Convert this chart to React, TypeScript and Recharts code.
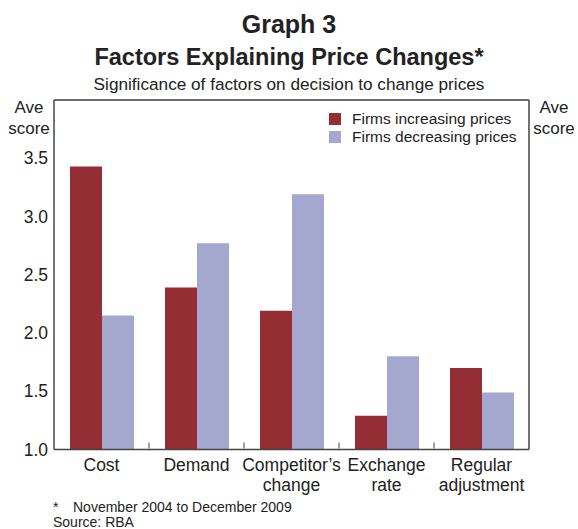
import { BarChart, Bar, XAxis, YAxis, CartesianGrid, ReferenceLine, Legend } from "recharts"

const categories = ["Cost", "Demand", "Competitor’s change", "Exchange rate", "Regular adjustment"]
const categoryLines = [["Cost"], ["Demand"], ["Competitor’s", "change"], ["Exchange", "rate"], ["Regular", "adjustment"]]
const increasing = [3.43, 2.39, 2.19, 1.29, 1.70]
const decreasing = [2.15, 2.77, 3.19, 1.80, 1.49]
const yTicks = [1.0, 1.5, 2.0, 2.5, 3.0, 3.5]

const RED = "#952d35"
const BLUE = "#a4a8ce"
const TEXT = "#222"
const FONT = "'Liberation Sans', Arial, sans-serif"

const data = categories.map((name, i) => ({
  name,
  increasing: increasing[i],
  decreasing: decreasing[i],
}))

// category label plus the short divider tick at the right edge of each band
function CategoryTick(props: any) {
  const { x, y, payload, index, visibleTicksCount } = props
  const lines = categoryLines[index] ?? [String(payload.value)]
  const half = payload.offset ?? 47.5
  return (
    <g>
      {lines.map((l: string, i: number) => (
        <text key={i} x={x} y={y + 21 + i * 20} textAnchor="middle" fontSize={17.5} fill={TEXT} fontFamily={FONT}>
          {l}
        </text>
      ))}
      {index < visibleTicksCount - 1 && (
        <line x1={x + half} x2={x + half} y1={y - 1} y2={y - 7} stroke="#444" strokeWidth={1} />
      )}
    </g>
  )
}

function LegendBox() {
  const items = [
    { label: "Firms increasing prices", color: RED },
    { label: "Firms decreasing prices", color: BLUE },
  ]
  return (
    <div style={{ fontFamily: FONT, fontSize: 15.5, color: TEXT, lineHeight: "18px" }}>
      {items.map(it => (
        <div key={it.label} style={{ display: "flex", alignItems: "center" }}>
          <span style={{ display: "inline-block", width: 12, height: 12, background: it.color, marginRight: 11 }} />
          {it.label}
        </div>
      ))}
    </div>
  )
}

const axisTick = { fontSize: 17.5, fill: TEXT, fontFamily: FONT }

export default function App() {
  return (
    <div style={{ position: "absolute", left: 0, top: 0, width: 578, height: 529, background: "#fff", fontFamily: FONT, color: TEXT }}>
      <div style={{ position: "absolute", top: 12, width: 578, textAlign: "center", fontWeight: "bold", fontSize: 25, lineHeight: "25px" }}>
        Graph 3
      </div>
      <div style={{ position: "absolute", top: 46, width: 578, textAlign: "center", fontWeight: "bold", fontSize: 23.5, lineHeight: "23.5px" }}>
        Factors Explaining Price Changes*
      </div>
      <div style={{ position: "absolute", top: 76, width: 578, textAlign: "center", fontSize: 17.2, lineHeight: "17.2px" }}>
        Significance of factors on decision to change prices
      </div>
      <div style={{ position: "absolute", top: 97, left: 4, width: 50, textAlign: "center", fontSize: 17, lineHeight: "21px" }}>
        Ave<br />score
      </div>
      <div style={{ position: "absolute", top: 97, left: 529, width: 50, textAlign: "center", fontSize: 17, lineHeight: "21px" }}>
        Ave<br />score
      </div>

      <div style={{ position: "absolute", left: 0, top: 0 }}>
        <BarChart
          width={578}
          height={529}
          data={data}
          margin={{ top: 100, right: 0, left: 0, bottom: 29.5 }}
          barGap={0}
          barSize={32}
        >
          <CartesianGrid vertical={false} stroke="#d2d2d2" strokeWidth={1.2} />
          <XAxis
            dataKey="name"
            height={50}
            tick={<CategoryTick />}
            tickLine={false}
            tickSize={0}
            tickMargin={0}
            axisLine={{ stroke: "#444", strokeWidth: 1.5 }}
            interval={0}
          />
          <YAxis
            yAxisId="left"
            width={54}
            domain={[1, 4]}
            ticks={yTicks}
            tickFormatter={(v: number) => v.toFixed(1)}
            tickLine={false}
            tickSize={0}
            tickMargin={6}
            tick={axisTick}
            axisLine={{ stroke: "#444", strokeWidth: 1.5 }}
          />
          <YAxis
            yAxisId="right"
            orientation="right"
            width={49}
            domain={[1, 4]}
            ticks={yTicks}
            tickFormatter={(v: number) => v.toFixed(1)}
            tickLine={false}
            tickSize={0}
            tickMargin={5}
            tick={axisTick}
            axisLine={{ stroke: "#444", strokeWidth: 1.5 }}
          />
          <ReferenceLine yAxisId="left" y={4} stroke="#444" strokeWidth={1.5} />
          <Legend
            layout="horizontal"
            verticalAlign="middle"
            align="center"
            content={<LegendBox />}
            wrapperStyle={{ position: "absolute", left: 329, top: 110, width: "auto" }}
          />
          <Bar yAxisId="left" dataKey="increasing" name="Firms increasing prices" fill={RED} isAnimationActive={false} />
          <Bar yAxisId="left" dataKey="decreasing" name="Firms decreasing prices" fill={BLUE} isAnimationActive={false} />
        </BarChart>
      </div>

      <div style={{ position: "absolute", left: 53, top: 499.5, fontSize: 14, lineHeight: "15px" }}>
        <div>
          <span style={{ display: "inline-block", width: 20 }}>*</span>November 2004 to December 2009
        </div>
        <div>Source: RBA</div>
      </div>
    </div>
  )
}
